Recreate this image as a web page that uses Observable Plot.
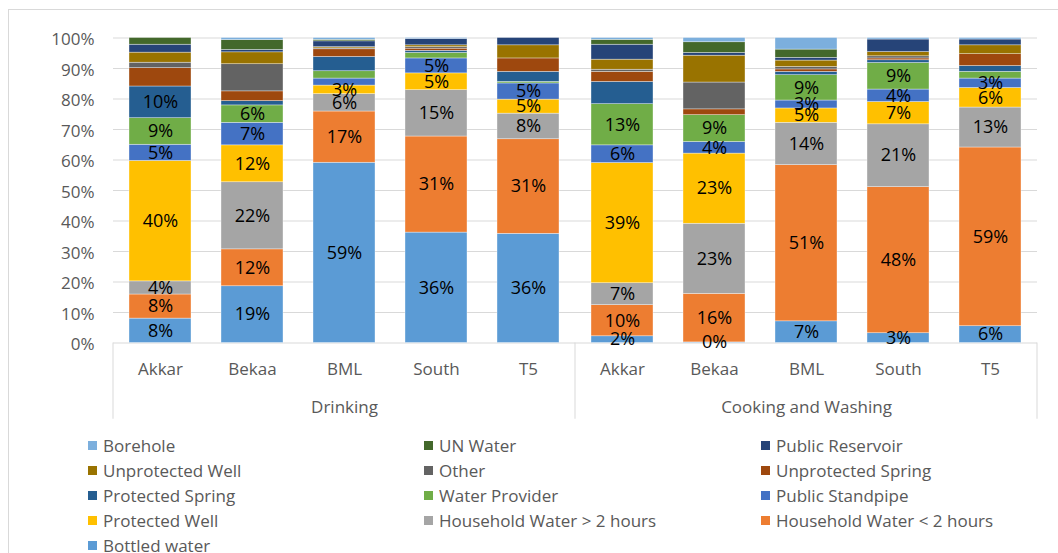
<!DOCTYPE html>
<html>
<head>
<meta charset="utf-8">
<script src="https://cdn.jsdelivr.net/npm/d3@7"></script>
<script src="https://cdn.jsdelivr.net/npm/@observablehq/plot@0.6"></script>
<style>
  body { margin: 0; background: #fff; }
  #wrap { position: relative; width: 1058px; height: 553px; overflow: hidden; font-family: "Open Sans", sans-serif; background: #fff; }
  #border { position: absolute; left: 8px; top: 9px; right: -10px; bottom: -10px; border-top: 1px solid #d9d9d9; border-left: 1px solid #d9d9d9; }
  #chart { position: absolute; left: 0; top: 0; }
  #legend { position: absolute; left: 88px; top: 432.5px; display: grid; grid-template-columns: 336px 337px 280px; grid-auto-rows: 25px; }
  .item { display: flex; align-items: center; font-size: 17px; color: #595959; white-space: nowrap; }
  .sw { width: 9px; height: 9px; margin-right: 6px; flex: none; }
</style>
</head>
<body>
<div id="wrap">
  <div id="border"></div>
  <div id="chart"></div>
  <div id="legend"></div>
</div>
<script>
// ---- Data ----
const groups = ["Drinking", "Cooking and Washing"];
const regions = ["Akkar", "Bekaa", "BML", "South", "T5"];

// series in stacking order (bottom to top)
const series = [
  "Bottled water", "Household Water < 2 hours", "Household Water > 2 hours", "Protected Well",
  "Public Standpipe", "Water Provider", "Protected Spring", "Unprotected Spring", "Other",
  "Unprotected Well", "Public Reservoir", "UN Water", "Borehole"
];
const colors = [
  "#5B9BD5", "#ED7D31", "#A5A5A5", "#FFC000",
  "#4472C4", "#70AD47", "#255E91", "#9E480E", "#636363",
  "#997300", "#264478", "#43682B", "#7CAFDD"
];

// values (%) per bar: Drinking Akkar, Bekaa, BML, South, T5, Cooking&Washing Akkar, Bekaa, BML, South, T5
const bottledWater      = [8.0, 18.6, 59.1, 36.2, 35.8,  2.2,  0.2,  7.1,  3.2,  5.5];
const hhUnder2          = [7.9, 12.1, 16.8, 31.5, 31.0, 10.2, 15.9, 51.2, 47.9, 58.6];
const hhOver2           = [4.3, 22.0,  5.7, 15.2,  8.4,  7.2, 23.0, 13.9, 20.6, 13.1];
const protectedWell     = [39.5, 12.1, 2.8,  5.5,  4.6, 39.4, 23.0,  4.7,  7.3,  6.4];
const publicStandpipe   = [5.3,  7.4,  2.3,  4.9,  5.3,  5.8,  3.8,  2.6,  4.1,  3.1];
const waterProvider     = [8.7,  5.7,  2.4,  1.8,  0.5, 13.5,  8.8,  8.3,  8.7,  2.2];
const protectedSpring   = [10.4, 1.4,  4.7,  0.7,  3.3,  7.3,  0.0,  1.1,  0.9,  1.9];
const unprotectedSpring = [6.0,  3.2,  2.5,  0.7,  4.4,  3.3,  1.9,  0.8,  0.6,  3.9];
const other             = [1.8,  8.9,  0.3,  0.5,  0.0,  0.7,  8.8,  0.8,  0.7,  0.0];
const unprotectedWell   = [3.3,  3.9,  0.4,  0.6,  4.3,  3.3,  8.8,  2.1,  1.4,  2.9];
const publicReservoir   = [2.6,  0.8,  1.9,  2.1,  2.4,  4.9,  0.9,  0.9,  4.1,  1.9];
const unWater           = [2.2,  3.2,  0.5,  0.0,  0.0,  1.6,  3.5,  2.7,  0.0,  0.0];
const borehole          = [0.0,  0.7,  0.6,  0.3,  0.0,  0.6,  1.4,  3.8,  0.5,  0.5];

const values = [bottledWater, hhUnder2, hhOver2, protectedWell, publicStandpipe, waterProvider,
  protectedSpring, unprotectedSpring, other, unprotectedWell, publicReservoir, unWater, borehole];

// data labels shown on the chart (null = no label)
const lblBottled     = ["8%", "19%", "59%", "36%", "36%", "2%", "0%", "7%", "3%", "6%"];
const lblUnder2      = ["8%", "12%", "17%", "31%", "31%", "10%", "16%", "51%", "48%", "59%"];
const lblOver2       = ["4%", "22%", "6%", "15%", "8%", "7%", "23%", "14%", "21%", "13%"];
const lblWell        = ["40%", "12%", "3%", "5%", "5%", "39%", "23%", "5%", "7%", "6%"];
const lblStandpipe   = ["5%", "7%", null, "5%", "5%", "6%", "4%", "3%", "4%", "3%"];
const lblProvider    = ["9%", "6%", null, null, null, "13%", "9%", "9%", "9%", null];
const lblProtSpring  = ["10%", null, null, null, null, null, null, null, null, null];
const noLabels       = [null, null, null, null, null, null, null, null, null, null];
const labels = [lblBottled, lblUnder2, lblOver2, lblWell, lblStandpipe, lblProvider, lblProtSpring,
  noLabels, noLabels, noLabels, noLabels, noLabels, noLabels];

const yTicks = [0, 10, 20, 30, 40, 50, 60, 70, 80, 90, 100];

// ---- Build table ----
const rows = [];
series.forEach((s, i) => {
  values[i].forEach((v, j) => {
    rows.push({
      series: s,
      group: groups[Math.floor(j / regions.length)],
      region: regions[j % regions.length],
      value: v,
      label: labels[i][j]
    });
  });
});

// ---- Plot ----
const plot = Plot.plot({
  width: 1058,
  height: 432,
  marginLeft: 112,
  marginRight: 21,
  marginTop: 37.5,
  marginBottom: 89.5,
  style: { fontFamily: "Open Sans", fontSize: "17px", color: "#595959", background: "transparent" },
  fx: { domain: groups, padding: 0, label: null },
  x: { domain: regions, paddingInner: 0.33, paddingOuter: 0.165, label: null },
  y: { domain: [0, 100], label: null },
  color: { domain: series, range: colors },
  marks: [
    Plot.gridY(yTicks, { stroke: "#d9d9d9", strokeOpacity: 1 }),
    Plot.barY(rows, { fx: "group", x: "region", y: "value", fill: "series", stroke: "white", strokeWidth: 0.6, strokeOpacity: 0.6 }),
    Plot.text(rows, Plot.stackY({ fx: "group", x: "region", y: "value", text: "label", fill: "black", fontSize: 18, fontFamily: "Open Sans" })),
    Plot.axisY(yTicks, { tickSize: 0, tickPadding: 19, tickFormat: d => d + "%", fontSize: 17, dy: 2 }),
    Plot.axisX({ tickSize: 0, tickPadding: 20, fontSize: 17 }),
    Plot.axisFx({ anchor: "bottom", tickSize: 0, tickPadding: 58, fontSize: 17 })
  ]
});

// category-table separator lines, placed through the plot's own scales
const fx = plot.scale("fx");
const ys = plot.scale("y");
const bw = typeof fx.bandwidth === "function" ? fx.bandwidth() : fx.bandwidth;
const edges = groups.map(g => fx.apply(g)).concat([fx.apply(groups[groups.length - 1]) + bw]);
d3.select(plot).append("g")
  .selectAll("line").data(edges).join("line")
  .attr("x1", d => d).attr("x2", d => d)
  .attr("y1", ys.apply(0)).attr("y2", ys.apply(-25))
  .attr("stroke", "#d9d9d9");

document.getElementById("chart").appendChild(plot);

// ---- Legend (top series first) ----
const legend = d3.select("#legend");
series.slice().reverse().forEach(s => {
  const item = legend.append("div").attr("class", "item");
  item.append("span").attr("class", "sw").style("background", colors[series.indexOf(s)]);
  item.append("span").text(s);
});
</script>
</body>
</html>
